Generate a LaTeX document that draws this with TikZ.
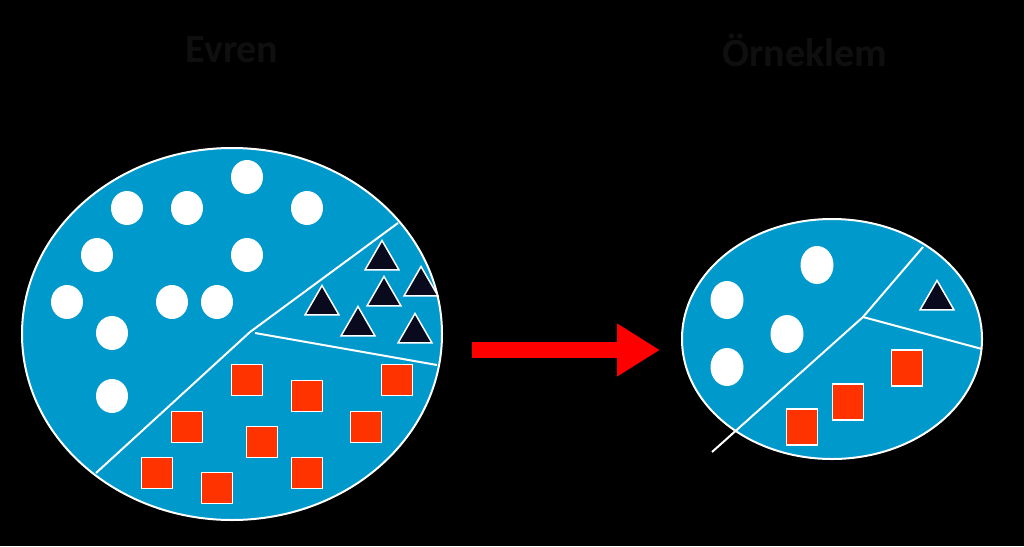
\documentclass[tikz,border=0pt]{standalone}
\usepackage{fontspec}
\setmainfont{Carlito}
\usetikzlibrary{shapes.geometric,arrows.meta}
\definecolor{popblue}{RGB}{0,153,204}
\definecolor{sqred}{RGB}{255,51,0}
\definecolor{arrred}{RGB}{255,0,0}
\definecolor{trinavy}{RGB}{10,10,30}
\begin{document}
\begin{tikzpicture}[x=1pt,y=-1pt]
\def\dotw{32}; %width of a white dot
\def\doth{34}; %height of a white dot
\def\sqsize{31}; %side of a red square
\def\trisize{39}; %circumscribed size of a triangle
\def\rim{2pt}; %white rim of the sets

\tikzstyle{title} = [text=black!94, font=\fontsize{40}{48}\selectfont\bfseries, inner sep=0pt]
\tikzstyle{dot} = [ellipse, fill=white, inner sep=0pt, minimum width=\dotw, minimum height=\doth]
\tikzstyle{dotsm} = [ellipse, fill=white, inner sep=0pt, minimum width=33, minimum height=38]
\tikzstyle{sq} = [rectangle, draw=white, line width=1.5pt, fill=sqred, inner sep=0pt, minimum size=\sqsize]
\tikzstyle{sqsm} = [rectangle, draw=white, line width=1.5pt, fill=sqred, inner sep=0pt, minimum width=31, minimum height=36]
\tikzstyle{tri} = [regular polygon, regular polygon sides=3, draw=white, line width=1.5pt, fill=trinavy, inner sep=0pt, minimum size=\trisize]
\tikzstyle{cut} = [draw=white, line width=\rim]

% background and page size
\fill[black] (0,0) rectangle (1024,546);
\useasboundingbox (0,0) rectangle (1024,546);

\node[title] (evren) at (232,50) {Evren};
\node[title] (orneklem) at (805,50) {Örneklem};

% population
\draw[white, line width=\rim, fill=popblue] (232,334) ellipse [x radius=210, y radius=186];

\coordinate (pa) at (96,473);
\coordinate (pb) at (250,332);
\coordinate (pc) at (398,223);
\coordinate (pd) at (255,333);
\coordinate (pe) at (437,365);
\draw[cut] (pa)--(pb)--(pc);
\draw[cut] (pd)--(pe);

\foreach \x/\y [count=\i] in {247/177,127/208,187/208,307/208,97/255,247/255,67/302,172/302,217/302,112/333,112/396}{
 \node[dot] (pdot\i) at (\x,\y) {};
}

\foreach \x/\y [count=\i] in {382/260,421/286,384/296,322/305,358/326,415/333}{
 \node[tri] (ptri\i) at (\x,\y) {};
}

\foreach \x/\y [count=\i] in {247/380,307/396,397/380,187/427,262/442,366/427,157/473,217/488,307/473}{
 \node[sq] (psq\i) at (\x,\y) {};
}

% arrow between the sets
\coordinate (arrS) at (472,350);
\coordinate (arrT) at (660,350);
\draw[arrred, line width=16pt, -{Triangle[length=43pt, width=50pt]}] (arrS)--(arrT);

% sample
\draw[white, line width=\rim, fill=popblue] (832,339) ellipse [x radius=150, y radius=120];

\coordinate (sa) at (712,452);
\coordinate (sb) at (863,317);
\coordinate (sc) at (923,247);
\coordinate (sd) at (982,349);
\draw[cut] (sa)--(sb)--(sc);
\draw[cut] (sb)--(sd);

\foreach \x/\y [count=\i] in {817/265,727/300,787/334,727/367}{
 \node[dotsm] (sdot\i) at (\x,\y) {};
}

\node[tri] (stri1) at (937,300) {};

\foreach \x/\y [count=\i] in {907/368,848/402,802/427}{
 \node[sqsm] (ssq\i) at (\x,\y) {};
}

\end{tikzpicture}
\end{document}
